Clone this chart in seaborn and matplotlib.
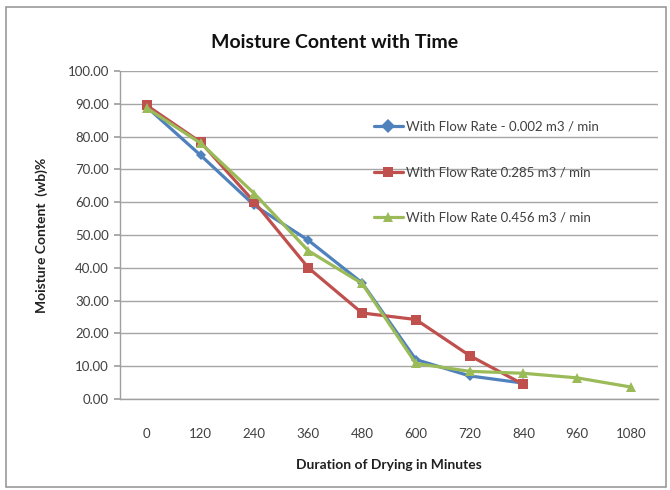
import matplotlib
matplotlib.use("Agg")
import matplotlib.pyplot as plt
import seaborn as sns
import pandas as pd
from matplotlib.patches import Rectangle
from matplotlib.ticker import FixedLocator

# Drying time categories (minutes)
durations = ["0", "120", "240", "360", "480", "600", "720", "840", "960", "1080"]

# Moisture content (wet basis, %) for each air flow rate
mc_flow_0002 = [89.0, 74.3, 59.0, 48.4, 35.4, 12.0, 7.0, 4.8]
mc_flow_0285 = [89.5, 78.3, 60.0, 40.0, 26.2, 24.2, 13.2, 4.4]
mc_flow_0456 = [88.7, 78.0, 62.6, 45.2, 35.2, 10.8, 8.4, 7.8, 6.4, 3.6]

series_names = [
    "With Flow Rate - 0.002 m3 / min",
    "With Flow Rate 0.285 m3 / min",
    "With Flow Rate 0.456 m3 / min",
]
series_values = [mc_flow_0002, mc_flow_0285, mc_flow_0456]

rows = []
for name, vals in zip(series_names, series_values):
    for t, v in zip(durations, vals):
        rows.append({"Duration": t, "Moisture": v, "Series": name})
df = pd.DataFrame(rows)

sns.set_theme(style="white")
plt.rcParams["font.family"] = ["Lato", "DejaVu Sans"]

fig = plt.figure(figsize=(6.7, 4.9), dpi=100)
ax = fig.add_axes([0.179, 0.186, 0.803, 0.669])

palette = {series_names[0]: "#4F81BD", series_names[1]: "#C0504D", series_names[2]: "#9BBB59"}
markers = {series_names[0]: "D", series_names[1]: "s", series_names[2]: "^"}
sizes = {series_names[0]: 5, series_names[1]: 7.5, series_names[2]: 7}

sns.lineplot(
    data=df, x="Duration", y="Moisture", hue="Series", style="Series",
    palette=palette, markers=markers, dashes=False, sort=False,
    linewidth=2.3, markersize=7, markeredgewidth=0, ax=ax, zorder=3,
)
for line, name in zip(ax.get_lines()[:3], series_names):
    line.set_markersize(sizes[name])

ax.set_xlim(-0.5, len(durations) - 0.5)
ax.set_ylim(0, 100)
ax.set_yticks(range(0, 101, 10))
ax.set_yticklabels([f"{v:.2f}" for v in range(0, 101, 10)])
ax.set_xticks(range(len(durations)))
ax.set_xticklabels(durations)
ax.xaxis.set_minor_locator(FixedLocator([i - 0.5 for i in range(len(durations) + 1)]))

ax.grid(axis="y", color="#a6a6a6", linewidth=1.0)
ax.set_axisbelow(True)
for s in ["top", "right"]:
    ax.spines[s].set_visible(False)
for s in ["left", "bottom"]:
    ax.spines[s].set_color("#a0a0a0")
    ax.spines[s].set_linewidth(1.0)

ax.tick_params(axis="x", which="major", length=0, pad=21, labelsize=9.5, labelcolor="#404040")
ax.tick_params(axis="x", which="minor", length=7, color="#a0a0a0", direction="inout")
ax.tick_params(axis="y", which="major", length=4, color="#a0a0a0", direction="out",
               labelsize=9.5, labelcolor="#404040", left=True, pad=4)

ax.set_xlabel("Duration of Drying in Minutes", fontsize=10, fontweight="bold",
              color="#202020", labelpad=14)
ax.set_ylabel("Moisture Content  (wb)%", fontsize=10, fontweight="bold",
              color="#202020", labelpad=14)

fig.text(0.5, 0.914, "Moisture Content with Time", ha="center", va="center",
         fontsize=14, fontweight="bold", color="#111111")

leg = ax.legend(loc="upper left", bbox_to_anchor=(0.45, 0.885), frameon=False,
                fontsize=9.5, labelspacing=2.55, handlelength=2.2, handletextpad=0.2)
for txt in leg.get_texts():
    txt.set_color("#404040")

fig.patches.append(Rectangle((0.009, 0.006), 0.985, 0.98, transform=fig.transFigure,
                             fill=False, edgecolor="#9a9a9a", linewidth=1.2))

fig.savefig("out.png", dpi=100)
